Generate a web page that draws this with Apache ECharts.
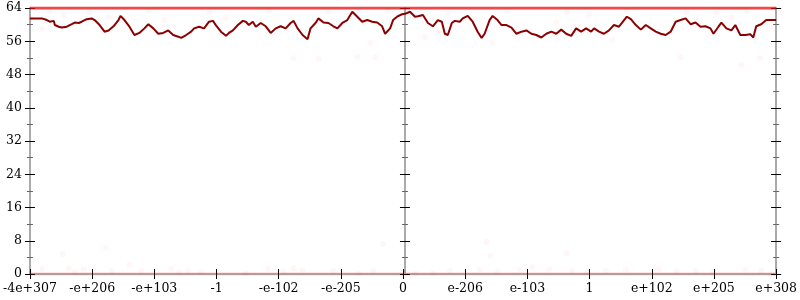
<!DOCTYPE html>
<html>
<head>
<meta charset="utf-8">
<script src="https://cdn.jsdelivr.net/npm/echarts@6/dist/echarts.min.js"></script>
<style>html,body{margin:0;padding:0;background:#fff}#c{width:800px;height:300px}</style>
</head>
<body>
<div id="c"></div>
<script>
// x positions are in "ordered bit index" units (0..750), tick every 62.5
const xTickLabels = ["-4e+307","-e+206","-e+103","-1","-e-102","-e-205","0","e-206","e-103","1","e+102","e+205","e+308"];
const yTicks = [0, 8, 16, 24, 32, 40, 48, 56, 64];

// moving average of correct bits
const avgX = [0,7,12,14,17,20,24,25,29,32,37,42,45,49,52,57,62,65,70,75,79,84,89,91,95,100,105,110,115,119,124,129,134,139,144,149,152,157,162,165,170,175,180,184,187,192,197,200,204,209,214,217,220,224,227,232,237,242,247,252,257,262,265,269,274,279,282,287,290,295,300,305,309,314,319,324,329,334,339,344,349,354,357,362,365,369,374,377,382,387,390,395,400,405,410,414,417,420,424,427,432,435,440,445,450,454,457,462,465,470,474,479,484,489,494,499,504,509,514,519,524,529,534,539,544,549,554,559,564,567,572,577,582,587,592,595,600,604,609,614,619,624,629,634,639,644,649,654,659,664,669,674,679,684,687,692,695,700,705,709,714,719,724,727,730,735,740,750];
const avgY = [61.5,61.5,61.5,61.8,61.1,60.7,60.9,59.9,59.5,59.3,59.5,60.1,60.5,60.4,60.7,61.3,61.5,61.1,59.9,58.3,58.6,59.6,61.1,62.1,61.1,59.5,57.5,58.0,59.1,60.1,59.1,57.8,58.0,58.6,57.5,57.1,56.8,57.5,58.3,59.1,59.5,59.1,60.7,60.9,59.8,58.3,57.3,58.0,58.6,59.9,60.9,60.7,59.9,60.7,59.5,60.4,59.6,58.0,59.1,59.6,59.1,60.4,60.9,59.1,57.5,56.5,59.1,60.4,61.5,60.5,60.4,59.6,59.1,60.4,61.1,63.1,61.9,60.7,61.1,60.7,60.5,59.6,57.8,59.1,61.1,61.9,62.5,62.6,63.1,61.9,62.0,62.3,60.4,59.6,61.1,60.7,57.8,57.5,60.4,60.9,60.7,61.5,62.1,60.7,58.3,56.8,57.8,61.1,62.1,61.1,59.9,59.9,59.3,57.8,58.3,58.6,57.8,57.5,56.9,57.8,58.3,57.8,58.8,57.8,57.3,59.1,58.3,59.1,58.3,59.1,58.3,57.8,58.6,59.9,59.5,60.4,61.9,61.3,59.9,58.8,59.9,59.1,58.3,57.8,57.5,58.3,60.7,61.1,61.5,60.1,60.5,59.5,59.6,59.1,57.8,59.5,60.5,59.1,58.6,59.9,57.5,57.5,57.7,56.9,59.6,60.1,61.1,61.1];

// individual samples (faint)
const sampleX = [34,79,12,135,95,335,197,342,1,265,290,329,347,397,410,464,529,562,585,654,690,705,715,734,12,39,54,82,100,112,142,159,172,217,239,265,274,305,330,345,355,387,405,422,452,492,505,522,545,579,599,632,669,687,719,735,33,76,459,463,540,20,60,120,180,240,300,360,420,480,540,600,660,720,45,150,255,375,470,560,650,745];
const sampleY = [62.3,61.8,59.0,61.1,60.9,60.6,61.6,55.6,61.6,52.0,51.7,52.2,52.2,57.0,58.2,55.6,60.6,62.3,56.3,52.2,62.8,61.8,50.3,52.0,1.2,1.4,1.0,0.7,2.2,0.7,1.2,0.7,0.5,0.2,1.2,1.4,1.0,0.7,0.2,0.7,7.2,0.2,0.2,0.7,1.0,1.0,1.7,1.0,0.7,0.7,1.0,1.2,0.7,0.5,1.0,0.7,4.8,6.3,7.7,4.3,5.0,63.2,63.0,63.4,62.9,63.3,63.1,63.5,62.8,63.2,63.0,63.4,62.9,63.3,0.5,0.4,0.6,0.3,0.5,0.4,0.6,0.3];

// exact results (many overlapping samples at full 64 bits / at 0 bits)
const exactX = [0, 750];
const exactY = [64, 64];
const zeroY = [0, 0];

const zip = (a, b) => a.map((v, i) => [v, b[i]]);

const FONT = 'DejaVu Serif';
const AX = '#aaaaaa';
function yAxisDef(position, offset, inside, showLine, showLabel) {
  return {
    type: 'value', min: 0, max: 64, interval: 8, position: position, offset: offset,
    splitNumber: 8,
    axisLine: { show: showLine, lineStyle: { color: AX, width: 2 } },
    axisTick: { show: true, inside: inside, length: 5, lineStyle: { color: '#000', width: 1 } },
    minorTick: { show: true, splitNumber: 2, length: 3, lineStyle: { color: '#666', width: 1 } },
    axisLabel: { show: showLabel, margin: 8, color: '#000', fontFamily: FONT, fontSize: 12.5,
      formatter: v => (yTicks.indexOf(v) >= 0 ? String(v) : '') },
    splitLine: { show: false }
  };
}
function xAxisDef(inside, showLine, showLabel) {
  return {
    type: 'value', min: 0, max: 750, interval: 62.5, position: 'bottom',
    axisLine: { show: showLine, onZero: false, lineStyle: { color: AX, width: 2 } },
    axisTick: { show: true, inside: inside, length: 5, lineStyle: { color: '#000', width: 1 } },
    axisLabel: { show: showLabel, margin: 8, color: '#000', fontFamily: FONT, fontSize: 12.5,
      showMinLabel: true, showMaxLabel: true,
      formatter: v => xTickLabels[Math.round(v / 62.5)] || '' },
    splitLine: { show: false }
  };
}

const chart = echarts.init(document.getElementById('c'), null, { renderer: 'canvas' });
chart.setOption({
  animation: false,
  backgroundColor: '#fff',
  grid: { left: 28, right: 22, top: 8, bottom: 26, containLabel: false },
  xAxis: [xAxisDef(false, true, true), xAxisDef(true, false, false)],
  yAxis: [
    yAxisDef('left', 0, false, true, true),
    yAxisDef('left', 0, true, false, false),
    yAxisDef('left', -375, false, true, false),
    yAxisDef('left', -375, true, false, false),
    yAxisDef('right', 0, false, true, false),
    yAxisDef('right', 0, true, false, false)
  ],
  series: [
    { type: 'line', data: zip(exactX, zeroY), showSymbol: false, silent: true,
      lineStyle: { color: 'rgba(255,60,60,0.12)', width: 4 }, z: 1 },
    { type: 'scatter', data: zip(sampleX, sampleY), symbolSize: 6, silent: true,
      itemStyle: { color: 'rgba(255,0,0,0.045)' }, z: 1 },
    { type: 'line', data: zip(exactX, exactY), showSymbol: false, silent: true,
      lineStyle: { color: 'rgba(240,10,10,0.75)', width: 3 }, z: 2 },
    { type: 'line', data: zip(avgX, avgY), showSymbol: false, silent: true,
      lineStyle: { color: '#8b0000', width: 2 }, z: 3 }
  ]
});
</script>
</body>
</html>
